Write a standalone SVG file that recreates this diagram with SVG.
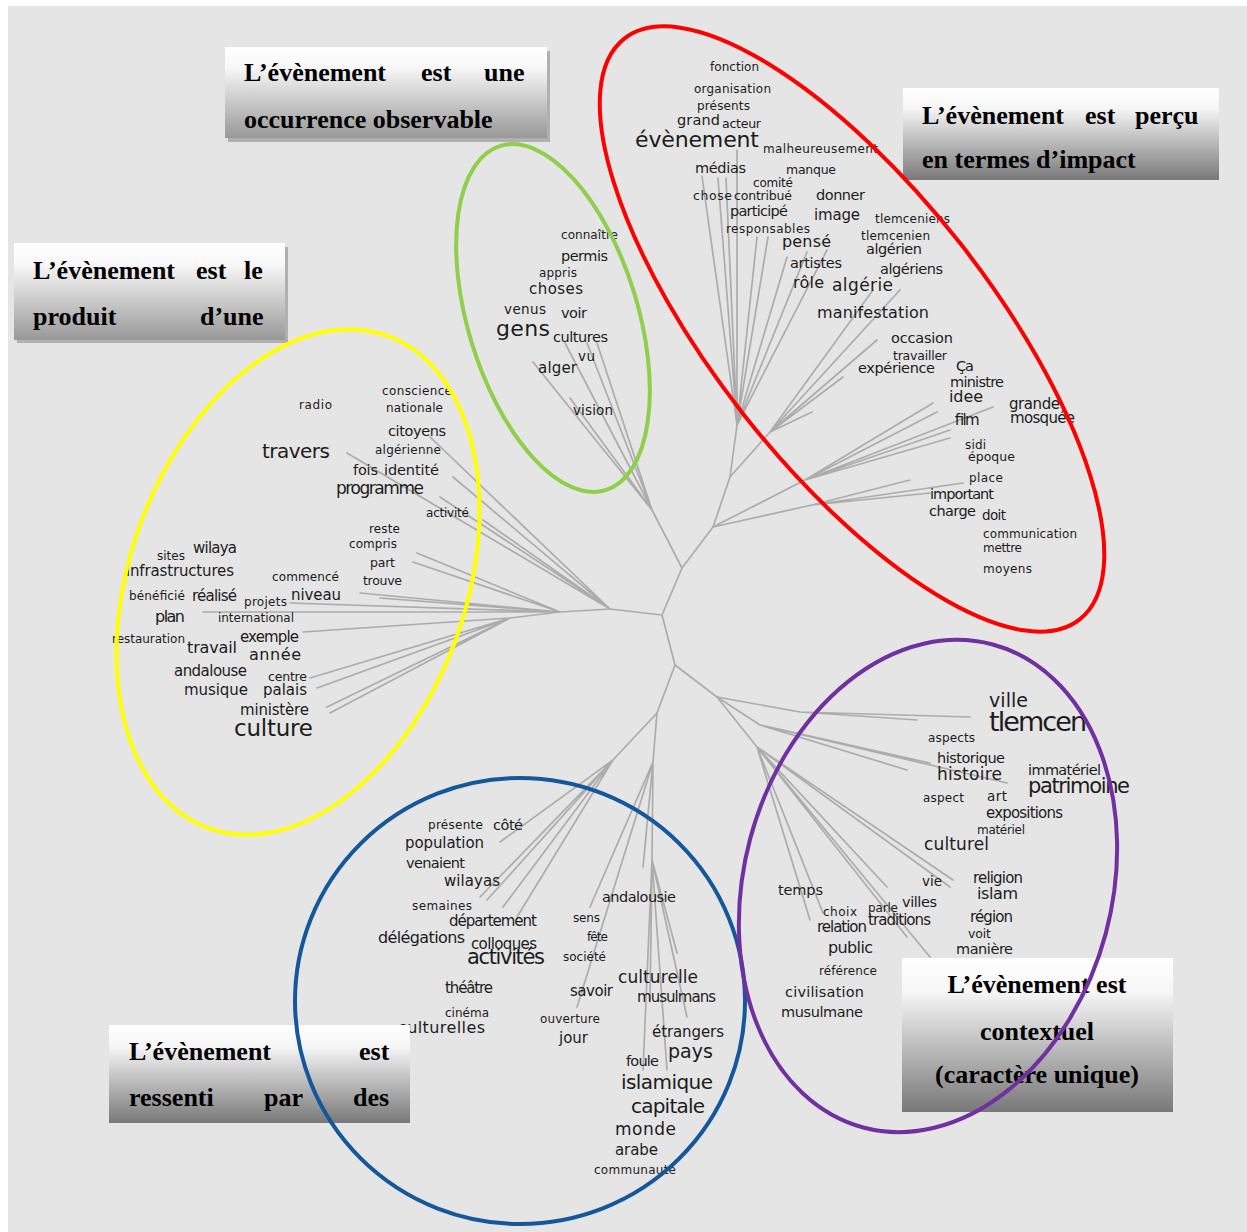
<svg xmlns="http://www.w3.org/2000/svg" width="1247" height="1232" viewBox="0 0 1247 1232">
  <defs>
    <linearGradient id="boxGrad" x1="0" y1="0" x2="0" y2="1">
      <stop offset="0" stop-color="#ffffff"/>
      <stop offset="0.22" stop-color="#f6f6f6"/>
      <stop offset="1" stop-color="#787878"/>
    </linearGradient>
    <linearGradient id="boxGradLight" x1="0" y1="0" x2="0" y2="1">
      <stop offset="0" stop-color="#ffffff"/>
      <stop offset="0.22" stop-color="#f8f8f8"/>
      <stop offset="1" stop-color="#989898"/>
    </linearGradient>
    <style>
      .bg { fill: #e5e5e5; }
      .edge { fill: none; stroke: #acacac; stroke-width: 1.7; stroke-linecap: round; stroke-linejoin: round; }
      .w { font-family: "DejaVu Sans", "Liberation Sans", sans-serif; fill: #1c1c1c; }
      .f11 { font-size: 12px; } .f12 { font-size: 12.5px; } .f13 { font-size: 13.5px; }
      .f14 { font-size: 14.5px; } .f15 { font-size: 15px; } .f16 { font-size: 16px; }
      .f17 { font-size: 17px; } .f19 { font-size: 19px; } .f20 { font-size: 20px; }
      .f21 { font-size: 21px; } .f22 { font-size: 22px; } .f23 { font-size: 23px; }
      .f27 { font-size: 27px; }
      .box { stroke: none; }
      .shadow { fill: #b0b0b0; }
      .lbl { font-family: "Liberation Serif", "Times New Roman", serif; font-weight: bold; font-size: 26px; fill: #000; }
      .ring { fill: none; stroke-width: 4; }
    </style>
  </defs>

  <!-- page -->
  <rect x="0" y="0" width="1247" height="1232" fill="#ffffff"/>
  <rect class="bg" x="8" y="6" width="1239" height="1226"/>

  <!-- similarity tree branches -->
  <g id="connectors" class="edge">
    <!-- core -->
    <path d="M682,568 L662,615 L675,665"/>
    <!-- upper-left branch -->
    <path d="M682,568 L652,510 L533,362 M652,510 L565,343 M652,510 L587,343 M652,510 L597,343 M652,510 L570,398"/>
    <!-- upper-right branch -->
    <path d="M682,568 L713,527 L730,477 L737,425"/>
    <path d="M737,425 L702,176 M737,425 L718,178 M737,425 L726,178 M737,425 L737,150 M737,425 L757,237 M737,425 L768,237 M737,425 L787,257 M737,425 L807,252 M737,425 L827,250"/>
    <path d="M730,477 L770,432 L873,290 M770,432 L900,290 M770,432 L877,340 M770,432 L843,377 M770,432 L812,412"/>
    <path d="M713,527 L805,480 L933,403 M805,480 L937,412 M805,480 L993,407 M805,480 L950,430 M805,480 L950,438"/>
    <path d="M713,527 L812,505 L910,480 M812,505 L963,483 M812,505 L930,493"/>
    <!-- left branch -->
    <path d="M662,615 L610,609 L430,437 M610,609 L453,477 M610,609 L347,453 M610,609 L483,520 M610,609 L440,497"/>
    <path d="M610,609 L560,612 L417,553 M560,612 L413,562 M560,612 L360,593 M560,612 L290,603 M560,612 L203,612 M560,612 L380,598"/>
    <path d="M560,612 L510,618 L303,632 M510,618 L310,678 M510,618 L317,688 M510,618 L327,707 M510,618 L330,713"/>
    <!-- lower branch -->
    <path d="M675,665 L657,713 L613,760 L500,842 M613,760 L480,897 M613,760 L487,900 M613,760 L517,917 M613,760 L503,907"/>
    <path d="M657,713 L653,762 L590,907 M653,762 L577,1007 M653,762 L643,867 M653,762 L652,860 L643,1070 M652,860 L667,1070 M652,860 L687,1017 M652,860 L677,953 M652,860 L650,1000"/>
    <!-- lower-right branch -->
    <path d="M675,665 L717,697 L800,712 L970,717 M800,712 L917,720"/>
    <path d="M717,697 L760,725 L907,770 M760,725 L930,763 M760,725 L1007,783"/>
    <path d="M717,697 L757,747 L953,880 M757,747 L950,887 M757,747 L887,887 M757,747 L823,913 M757,747 L907,937 M757,747 L930,957 M757,747 L810,920"/>
  </g>

  <!-- words: impact cluster -->
  <g id="cluster-impact">
    <text id="w-fonction" class="w f11" x="710" y="71" textLength="49">fonction</text>
    <text id="w-organisation" class="w f11" x="694" y="93" textLength="77">organisation</text>
    <text id="w-presents" class="w f11" x="697" y="110" textLength="53">présents</text>
    <text id="w-grand" class="w f14" x="677" y="125" textLength="43">grand</text>
    <text id="w-acteur" class="w f12" x="722" y="128" textLength="39">acteur</text>
    <text id="w-evenement" class="w f22" x="635" y="147" textLength="124">évènement</text>
    <text id="w-malheureusement" class="w f11" x="763" y="153" textLength="115">malheureusement</text>
    <text id="w-medias" class="w f14" x="695" y="173" textLength="51">médias</text>
    <text id="w-manque" class="w f12" x="786" y="174" textLength="50">manque</text>
    <text id="w-comite" class="w f11" x="753" y="187" textLength="40">comité</text>
    <text id="w-chose" class="w f12" x="693" y="200" textLength="39">chose</text>
    <text id="w-contribue" class="w f12" x="734" y="200" textLength="58">contribué</text>
    <text id="w-donner" class="w f14" x="816" y="200" textLength="49">donner</text>
    <text id="w-participe" class="w f14" x="730" y="216" textLength="58">participé</text>
    <text id="w-image" class="w f15" x="814" y="220" textLength="46">image</text>
    <text id="w-tlemceniens" class="w f11" x="875" y="223" textLength="75">tlemceniens</text>
    <text id="w-responsables" class="w f11" x="726" y="233" textLength="84">responsables</text>
    <text id="w-tlemcenien" class="w f11" x="861" y="240" textLength="69">tlemcenien</text>
    <text id="w-pense" class="w f16" x="782" y="247" textLength="49">pensé</text>
    <text id="w-algerien" class="w f14" x="866" y="254" textLength="56">algérien</text>
    <text id="w-artistes" class="w f14" x="790" y="268" textLength="52">artistes</text>
    <text id="w-algeriens" class="w f14" x="880" y="274" textLength="63">algériens</text>
    <text id="w-role" class="w f16" x="793" y="288" textLength="31">rôle</text>
    <text id="w-algerie" class="w f17" x="832" y="291" textLength="61">algérie</text>
    <text id="w-manifestation" class="w f16" x="817" y="318" textLength="112">manifestation</text>
    <text id="w-occasion" class="w f14" x="891" y="343" textLength="62">occasion</text>
    <text id="w-travailler" class="w f12" x="893" y="360" textLength="54">travailler</text>
    <text id="w-experience" class="w f14" x="858" y="373" textLength="77">expérience</text>
    <text id="w-ca" class="w f14" x="956" y="371" textLength="18">Ça</text>
    <text id="w-ministre" class="w f14" x="950" y="387" textLength="54">ministre</text>
    <text id="w-idee" class="w f16" x="949" y="402" textLength="34">idee</text>
    <text id="w-grande" class="w f15" x="1009" y="409" textLength="51">grande</text>
    <text id="w-mosquee" class="w f15" x="1010" y="423" textLength="65">mosquée</text>
    <text id="w-film" class="w f15" x="953" y="425" textLength="25">film</text>
    <text id="w-sidi" class="w f11" x="965" y="449" textLength="21">sidi</text>
    <text id="w-epoque" class="w f12" x="968" y="461" textLength="47">époque</text>
    <text id="w-place" class="w f11" x="969" y="482" textLength="34">place</text>
    <text id="w-important" class="w f14" x="930" y="499" textLength="64">important</text>
    <text id="w-charge" class="w f14" x="929" y="516" textLength="47">charge</text>
    <text id="w-doit" class="w f13" x="982" y="520" textLength="24">doit</text>
    <text id="w-communication" class="w f11" x="983" y="538" textLength="94">communication</text>
    <text id="w-mettre" class="w f11" x="983" y="552" textLength="39">mettre</text>
    <text id="w-moyens" class="w f11" x="983" y="573" textLength="49">moyens</text>
  </g>

  <!-- words: observable cluster -->
  <g id="cluster-observable">
    <text id="w-connaitre" class="w f11" x="561" y="239" textLength="57">connaître</text>
    <text id="w-permis" class="w f14" x="561" y="261" textLength="47">permis</text>
    <text id="w-appris" class="w f11" x="539" y="277" textLength="38">appris</text>
    <text id="w-choses" class="w f15" x="529" y="294" textLength="54">choses</text>
    <text id="w-venus" class="w f13" x="504" y="314" textLength="42">venus</text>
    <text id="w-voir" class="w f14" x="561" y="318" textLength="26">voir</text>
    <text id="w-gens" class="w f22" x="496" y="336" textLength="54">gens</text>
    <text id="w-cultures" class="w f14" x="553" y="342" textLength="55">cultures</text>
    <text id="w-vu" class="w f13" x="578" y="361" textLength="17">vu</text>
    <text id="w-alger" class="w f15" x="538" y="373" textLength="39">alger</text>
    <text id="w-vision" class="w f13" x="573" y="415" textLength="40">vision</text>
  </g>

  <!-- words: product cluster -->
  <g id="cluster-produit">
    <text id="w-conscience" class="w f11" x="382" y="395" textLength="70">conscience</text>
    <text id="w-nationale" class="w f11" x="386" y="412" textLength="57">nationale</text>
    <text id="w-radio" class="w f11" x="299" y="409" textLength="33">radio</text>
    <text id="w-citoyens" class="w f14" x="388" y="436" textLength="58">citoyens</text>
    <text id="w-algerienne" class="w f11" x="375" y="454" textLength="66">algérienne</text>
    <text id="w-travers" class="w f20" x="262" y="458" textLength="68">travers</text>
    <text id="w-fois" class="w f14" x="353" y="475" textLength="25">fois</text>
    <text id="w-identite" class="w f14" x="384" y="475" textLength="55">identité</text>
    <text id="w-programme" class="w f17" x="336" y="494" textLength="88">programme</text>
    <text id="w-activite" class="w f11" x="426" y="517" textLength="43">activité</text>
    <text id="w-reste" class="w f11" x="369" y="533" textLength="31">reste</text>
    <text id="w-compris" class="w f11" x="349" y="548" textLength="48">compris</text>
    <text id="w-wilaya" class="w f15" x="193" y="553" textLength="44">wilaya</text>
    <text id="w-sites" class="w f11" x="157" y="560" textLength="28">sites</text>
    <text id="w-part" class="w f12" x="370" y="567" textLength="25">part</text>
    <text id="w-infrastructures" class="w f15" x="126" y="576" textLength="108">infrastructures</text>
    <text id="w-commence" class="w f11" x="272" y="581" textLength="67">commencé</text>
    <text id="w-trouve" class="w f12" x="363" y="585" textLength="39">trouve</text>
    <text id="w-beneficie" class="w f11" x="129" y="600" textLength="56">bénéficié</text>
    <text id="w-realise" class="w f15" x="192" y="601" textLength="45">réalisé</text>
    <text id="w-niveau" class="w f15" x="291" y="600" textLength="50">niveau</text>
    <text id="w-projets" class="w f11" x="244" y="606" textLength="43">projets</text>
    <text id="w-plan" class="w f16" x="155" y="622" textLength="30">plan</text>
    <text id="w-international" class="w f11" x="218" y="622" textLength="76">international</text>
    <text id="w-exemple" class="w f15" x="240" y="642" textLength="59">exemple</text>
    <text id="w-restauration" class="w f11" x="112" y="643" textLength="73">restauration</text>
    <text id="w-travail" class="w f16" x="187" y="653" textLength="50">travail</text>
    <text id="w-annee" class="w f16" x="249" y="660" textLength="52">année</text>
    <text id="w-andalouse" class="w f15" x="174" y="676" textLength="73">andalouse</text>
    <text id="w-centre" class="w f12" x="268" y="681" textLength="39">centre</text>
    <text id="w-musique" class="w f15" x="184" y="695" textLength="64">musique</text>
    <text id="w-palais" class="w f15" x="263" y="695" textLength="44">palais</text>
    <text id="w-ministere" class="w f15" x="240" y="715" textLength="69">ministère</text>
    <text id="w-culture" class="w f23" x="234" y="736" textLength="79">culture</text>
  </g>

  <!-- words: context cluster -->
  <g id="cluster-contexte">
    <text id="w-ville" class="w f19" x="989" y="707" textLength="39">ville</text>
    <text id="w-tlemcen" class="w f27" x="989" y="731" textLength="98">tlemcen</text>
    <text id="w-aspects" class="w f11" x="928" y="742" textLength="47">aspects</text>
    <text id="w-historique" class="w f14" x="937" y="763" textLength="68">historique</text>
    <text id="w-immateriel" class="w f14" x="1028" y="775" textLength="73">immatériel</text>
    <text id="w-histoire" class="w f17" x="937" y="780" textLength="65">histoire</text>
    <text id="w-patrimoine" class="w f21" x="1028" y="793" textLength="102">patrimoine</text>
    <text id="w-aspect" class="w f11" x="923" y="802" textLength="41">aspect</text>
    <text id="w-art" class="w f13" x="987" y="801" textLength="20">art</text>
    <text id="w-expositions" class="w f15" x="986" y="818" textLength="77">expositions</text>
    <text id="w-materiel" class="w f11" x="977" y="834" textLength="48">matériel</text>
    <text id="w-culturel" class="w f17" x="924" y="850" textLength="65">culturel</text>
    <text id="w-religion" class="w f15" x="973" y="883" textLength="50">religion</text>
    <text id="w-vie" class="w f13" x="922" y="886" textLength="20">vie</text>
    <text id="w-temps" class="w f14" x="778" y="895" textLength="45">temps</text>
    <text id="w-islam" class="w f16" x="977" y="899" textLength="41">islam</text>
    <text id="w-villes" class="w f14" x="902" y="907" textLength="35">villes</text>
    <text id="w-parle" class="w f11" x="868" y="912" textLength="30">parle</text>
    <text id="w-choix" class="w f11" x="823" y="916" textLength="34">choix</text>
    <text id="w-region" class="w f15" x="970" y="922" textLength="43">région</text>
    <text id="w-traditions" class="w f15" x="868" y="925" textLength="63">traditions</text>
    <text id="w-relation" class="w f15" x="817" y="932" textLength="50">relation</text>
    <text id="w-voit" class="w f12" x="968" y="938" textLength="23">voit</text>
    <text id="w-public" class="w f16" x="828" y="953" textLength="45">public</text>
    <text id="w-maniere" class="w f14" x="956" y="954" textLength="57">manière</text>
    <text id="w-reference" class="w f11" x="819" y="975" textLength="58">référence</text>
    <text id="w-civilisation" class="w f14" x="785" y="997" textLength="79">civilisation</text>
    <text id="w-musulmane" class="w f14" x="781" y="1017" textLength="82">musulmane</text>
  </g>

  <!-- words: felt cluster -->
  <g id="cluster-ressenti">
    <text id="w-presente" class="w f11" x="428" y="829" textLength="55">présente</text>
    <text id="w-cote" class="w f14" x="493" y="830" textLength="30">côté</text>
    <text id="w-population" class="w f15" x="405" y="848" textLength="79">population</text>
    <text id="w-venaient" class="w f14" x="406" y="868" textLength="59">venaient</text>
    <text id="w-wilayas" class="w f15" x="444" y="886" textLength="56">wilayas</text>
    <text id="w-andalousie" class="w f14" x="602" y="902" textLength="74">andalousie</text>
    <text id="w-semaines" class="w f11" x="412" y="910" textLength="60">semaines</text>
    <text id="w-sens" class="w f11" x="573" y="922" textLength="27">sens</text>
    <text id="w-departement" class="w f15" x="449" y="926" textLength="88">département</text>
    <text id="w-fete" class="w f11" x="587" y="941" textLength="21">fête</text>
    <text id="w-delegations" class="w f16" x="378" y="943" textLength="87">délégations</text>
    <text id="w-colloques" class="w f15" x="471" y="949" textLength="66">colloques</text>
    <text id="w-societe" class="w f11" x="563" y="961" textLength="43">société</text>
    <text id="w-activites" class="w f21" x="467" y="964" textLength="78">activités</text>
    <text id="w-culturelle" class="w f17" x="618" y="983" textLength="80">culturelle</text>
    <text id="w-theatre" class="w f15" x="445" y="993" textLength="48">théâtre</text>
    <text id="w-savoir" class="w f15" x="570" y="996" textLength="43">savoir</text>
    <text id="w-musulmans" class="w f15" x="637" y="1002" textLength="79">musulmans</text>
    <text id="w-cinema" class="w f11" x="445" y="1017" textLength="44">cinéma</text>
    <text id="w-ouverture" class="w f11" x="540" y="1023" textLength="60">ouverture</text>
    <text id="w-culturelles" class="w f16" x="398" y="1033" textLength="87">culturelles</text>
    <text id="w-etrangers" class="w f15" x="652" y="1037" textLength="72">étrangers</text>
    <text id="w-jour" class="w f15" x="559" y="1043" textLength="29">jour</text>
    <text id="w-pays" class="w f19" x="668" y="1058" textLength="45">pays</text>
    <text id="w-foule" class="w f14" x="626" y="1066" textLength="33">foule</text>
    <text id="w-islamique" class="w f20" x="621" y="1089" textLength="92">islamique</text>
    <text id="w-capitale" class="w f20" x="631" y="1113" textLength="74">capitale</text>
    <text id="w-monde" class="w f17" x="615" y="1135" textLength="61">monde</text>
    <text id="w-arabe" class="w f15" x="615" y="1155" textLength="43">arabe</text>
    <text id="w-communaute" class="w f11" x="594" y="1174" textLength="82">communauté</text>
  </g>

  <!-- label boxes -->
  <g id="label-occurrence">
    <rect class="shadow" x="228" y="51" width="322" height="91"/>
    <rect class="box" x="225" y="47" width="322" height="91" fill="url(#boxGradLight)"/>
    <text class="lbl" y="81"><tspan x="244">L’évènement</tspan><tspan x="421">est</tspan><tspan x="484">une</tspan></text>
    <text class="lbl" x="244" y="128">occurrence observable</text>
  </g>

  <g id="label-impact">
    <rect class="box" x="903" y="88" width="316" height="92" fill="url(#boxGrad)"/>
    <text class="lbl" y="124"><tspan x="922">L’évènement</tspan><tspan x="1085">est</tspan><tspan x="1135">perçu</tspan></text>
    <text class="lbl" x="922" y="168">en termes d’impact</text>
  </g>

  <g id="label-produit">
    <rect class="shadow" x="17" y="247" width="271" height="96"/>
    <rect class="box" x="14" y="243" width="271" height="97" fill="url(#boxGradLight)"/>
    <text class="lbl" y="279"><tspan x="33">L’évènement</tspan><tspan x="196">est</tspan><tspan x="244">le</tspan></text>
    <text class="lbl" y="325"><tspan x="33">produit</tspan><tspan x="200">d’une</tspan></text>
  </g>

  <g id="label-ressenti">
    <rect class="box" x="109" y="1025" width="301" height="98" fill="url(#boxGrad)"/>
    <text class="lbl" y="1060"><tspan x="129">L’évènement</tspan><tspan x="359">est</tspan></text>
    <text class="lbl" y="1106"><tspan x="129">ressenti</tspan><tspan x="264">par</tspan><tspan x="353">des</tspan></text>
  </g>

  <g id="label-contexte">
    <rect class="box" x="902" y="958" width="271" height="154" fill="url(#boxGrad)"/>
    <text class="lbl" x="1037" y="993" text-anchor="middle">L’évènement est</text>
    <text class="lbl" x="1037" y="1040" text-anchor="middle">contextuel</text>
    <text class="lbl" x="1037" y="1083" text-anchor="middle">(caractère unique)</text>
  </g>

  <!-- cluster outlines -->
  <g id="outlines">
    <ellipse id="ring-impact" class="ring" stroke="#ff0000" cx="852" cy="329" rx="369" ry="138" transform="rotate(51.9 852 329)"/>
    <ellipse id="ring-observable" class="ring" stroke="#8fcf4c" cx="553" cy="318" rx="180" ry="85" transform="rotate(73 553 318)"/>
    <ellipse id="ring-produit" class="ring" stroke="#ffff00" cx="298" cy="582" rx="262" ry="168" transform="rotate(-70 298 582)"/>
    <ellipse id="ring-ressenti" class="ring" stroke="#14589b" cx="520" cy="1001" rx="225" ry="223"/>
    <ellipse id="ring-contexte" class="ring" stroke="#7030a0" cx="928" cy="886" rx="250" ry="184" transform="rotate(-75 928 886)"/>
  </g>
</svg>
